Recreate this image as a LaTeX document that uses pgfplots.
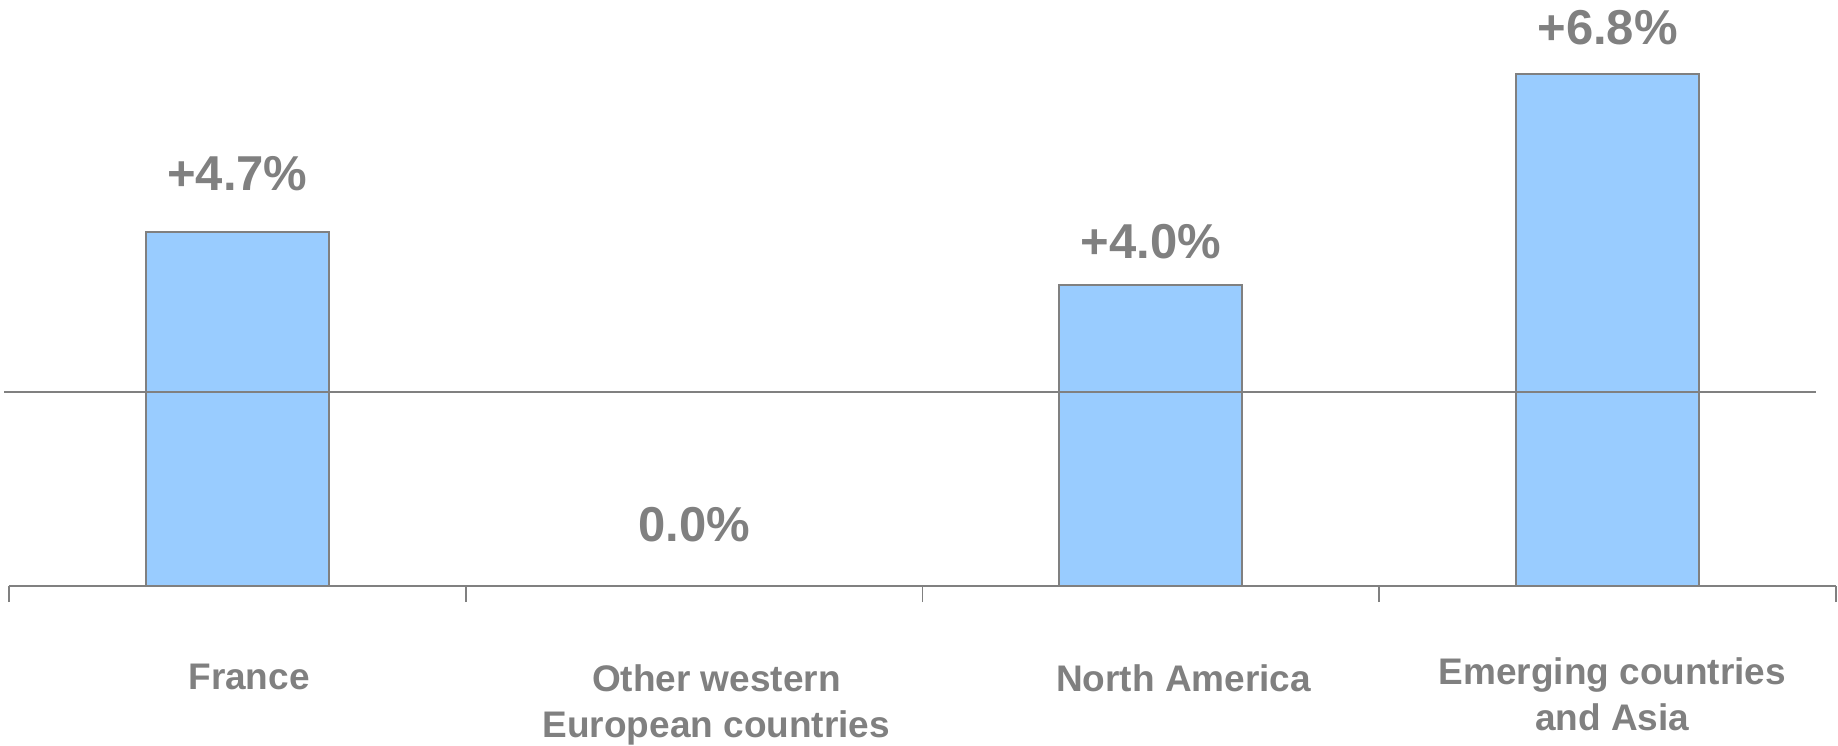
\documentclass[border=0pt]{standalone}
\usepackage{pgfplots}
\pgfplotsset{compat=1.18}
\usepackage{fontspec}
\setmainfont{Liberation Sans}
\definecolor{barblue}{HTML}{99CCFF}
\definecolor{txtgray}{HTML}{808080}
\begin{document}
\begin{tikzpicture}
\useasboundingbox (-4.5pt,-79.5pt) rectangle (914.5pt,293pt);
\begin{axis}[
  scale only axis,
  width=913.5pt, height=293pt,
  xmin=-0.5, xmax=3.5, ymin=0, ymax=7.78,
  clip=false,
  axis x line*=bottom, axis y line=none,
  axis line style={txtgray, line width=0.9pt},
  ytick=\empty,
  xtick={0,1,2,3},
  xticklabels={{\hspace*{11.7pt}France},
    {\hspace*{22.3pt}Other western\\\hspace*{22.3pt}European countries},
    {\hspace*{32.8pt}North America},
    {\raisebox{-5.2pt}[16.1pt][0pt]{\begin{tabular}{@{}c@{}}\hspace*{4.7pt}Emerging countries\\\hspace*{4.7pt}and Asia\end{tabular}}}},
  major tick length=0pt,
  minor xtick={-0.5,0.5,1.5,2.5,3.5},
  minor tick length=8pt,
  tick align=outside,
  every tick/.style={txtgray, line width=0.9pt},
  xticklabel style={font=\bfseries\fontsize{18.5}{23}\selectfont, text=txtgray, align=center, anchor=north, inner sep=0pt, yshift=-39pt},
]
\addplot[ybar, bar width=91.5pt, fill=barblue, draw=txtgray, line width=0.9pt,
  visualization depends on={\thisrow{off} \as \off},
  nodes near coords={\pgfplotspointmeta\%}, point meta=explicit symbolic,
  nodes near coords style={font=\bfseries\fontsize{24.5}{29}\selectfont, text=txtgray, anchor=base, inner sep=0pt, yshift=\off pt}]
  table[x=x, y=y, meta=lab] {
x y lab off
0 4.7 +4.7 20.7
1 0.0 0.0 22.5
2 4.0 +4.0 13.1
3 6.8 +6.8 14.9
};
\addplot[draw=txtgray, line width=0.9pt, no marks] coordinates {(-0.51,2.58) (3.457,2.58)};
\end{axis}
\end{tikzpicture}
\end{document}
